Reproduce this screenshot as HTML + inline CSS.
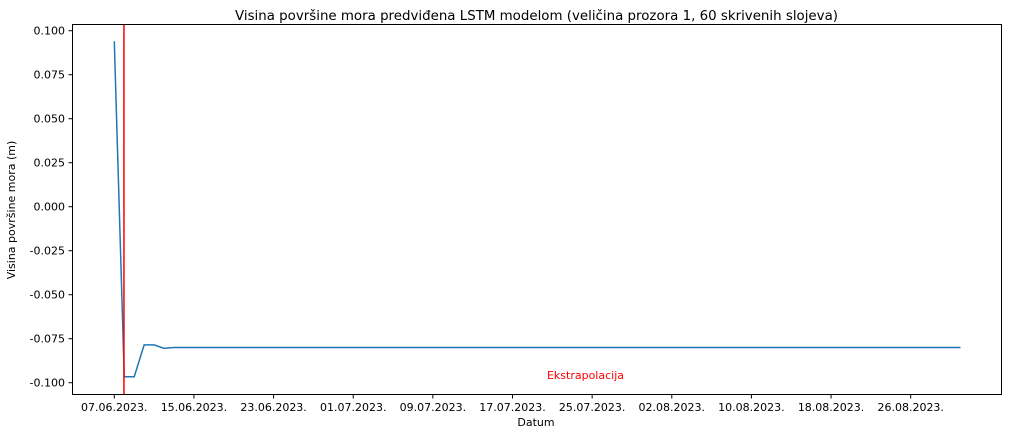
<!DOCTYPE html>
<html><head><meta charset="utf-8"><style>
body{margin:0;background:#fff;}
svg{display:block;font-family:"DejaVu Sans","Liberation Sans",sans-serif;}
</style></head><body>
<svg id="chart" width="1009" height="435" viewBox="0 0 1009 435">
<rect width="1009" height="435" fill="#fff"/>
<text x="536.5" y="20" font-size="13.2" text-anchor="middle" fill="#000" textLength="603" lengthAdjust="spacingAndGlyphs">Visina površine mora predviđena LSTM modelom (veličina prozora 1, 60 skrivenih slojeva)</text>
<g id="yticks"></g><g id="xticks"></g>
<g id="series"></g>
<rect x="72.5" y="24.5" width="929" height="370" fill="none" stroke="#000" stroke-width="1"/>
<text x="536" y="426" font-size="11" text-anchor="middle">Datum</text>
<text transform="translate(15,210) rotate(-90)" font-size="11" text-anchor="middle">Visina površine mora (m)</text>
<text x="585.5" y="379" font-size="11" fill="red" text-anchor="middle">Ekstrapolacija</text>
</svg>
<script>
const yTickValues=[0.100,0.075,0.050,0.025,0.000,-0.025,-0.050,-0.075,-0.100];
const xTickLabels=["07.06.2023.","15.06.2023.","23.06.2023.","01.07.2023.","09.07.2023.","17.07.2023.","25.07.2023.","02.08.2023.","10.08.2023.","18.08.2023.","26.08.2023."];
const xTickDays=[0,8,16,24,32,40,48,56,64,72,80];
const headValues=[0.094,-0.0966,-0.0966,-0.0785,-0.0785,-0.0805];
const tailValue=-0.0800;
const tailCount=80;
const extrapolationDay=1;
const values=headValues.concat(Array(tailCount).fill(tailValue));
const NS="http://www.w3.org/2000/svg";
function xs(d){return 114.3+d*9.955;}
function ys(v){return 206.7-v*1760;}
function mk(t,a,p){const e=document.createElementNS(NS,t);for(const k in a)e.setAttribute(k,a[k]);p.appendChild(e);return e;}
const yg=document.getElementById('yticks');
yTickValues.forEach(v=>{const y=ys(v);
 const l=mk('line',{x1:68.5,x2:72.5,y1:y,y2:y,stroke:'#000'},yg);
 
 
 const t=mk('text',{x:65,y:y+4,'font-size':11,'text-anchor':'end'},yg);t.textContent=v.toFixed(3);
 
 });
const xg=document.getElementById('xticks');
xTickDays.forEach((d,i)=>{const x=xs(d);
 const l=mk('line',{x1:x,x2:x,y1:394.5,y2:398.5,stroke:'#000'},xg);
 
 
 const t=mk('text',{x:x,y:411,'font-size':11,'text-anchor':'middle'},xg);t.textContent=xTickLabels[i];
 
 });
const sg=document.getElementById('series');
const p=mk('polyline',{points:values.map((v,i)=>xs(i)+','+ys(v)).join(' '),fill:'none',stroke:'#1f77b4','stroke-width':1.5},sg);


const rl=mk('line',{x1:xs(extrapolationDay)-0.3,x2:xs(extrapolationDay)-0.3,y1:24.5,y2:394.5,stroke:'red','stroke-width':1.5},sg);


</script>
</body></html>
